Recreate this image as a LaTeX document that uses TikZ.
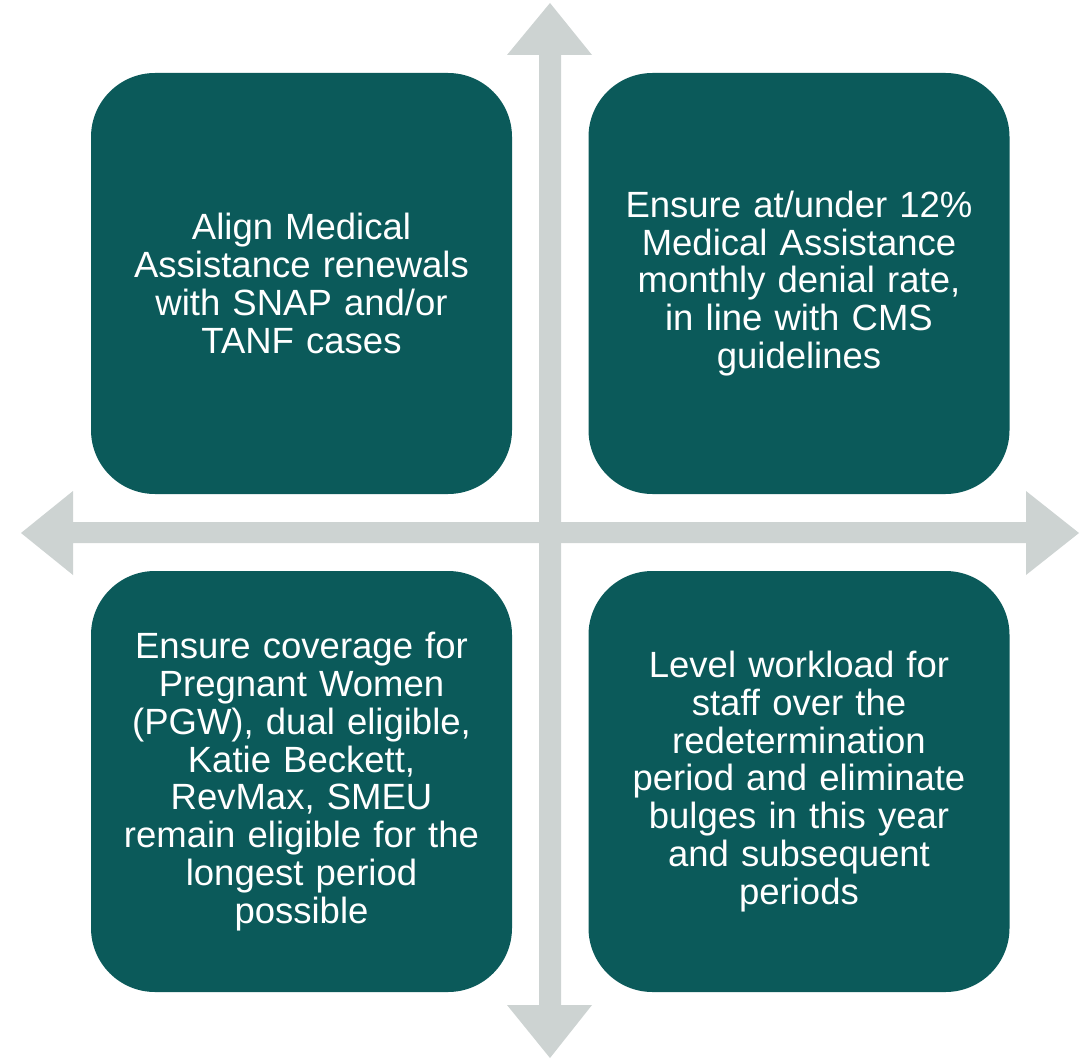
\documentclass[tikz,border=0pt]{standalone}
\usepackage{fontspec}
\setmainfont{Liberation Sans}
\definecolor{teal}{HTML}{0B5A5A}
\definecolor{arrowgray}{HTML}{CDD3D2}
\begin{document}
\begin{tikzpicture}[x=1pt,y=-1pt,
  quad/.style={fill=teal, draw=none, rounded corners=64pt, minimum width=421pt, minimum height=421pt, inner sep=0pt,
     text=white, align=center, text width=400pt, font=\fontsize{36.5}{37.8}\selectfont},
  arr/.style={fill=arrowgray, draw=none}]
\useasboundingbox (0,0) rectangle (1092,1059);
% arrows
\fill[arr] (539,55) -- (507,55) -- (550,3) -- (592,55) -- (561,55) -- (561,1005) -- (592,1005) -- (550,1058) -- (507,1005) -- (539,1005) -- cycle;
\fill[arr] (73,522) -- (73,491) -- (21,533) -- (73,575) -- (73,543) -- (1026,543) -- (1026,575) -- (1079,533) -- (1026,491) -- (1026,522) -- cycle;
% boxes
\node[quad] (tl) at (301.5,283.5) {Align Medical\\Assistance renewals\\with SNAP and/or\\TANF cases};
\node[quad] (tr) at (799,283.5) {Ensure at/under 12\%\\Medical Assistance\\monthly denial rate,\\in line with CMS\\guidelines};
\node[quad] (bl) at (301.5,781.5) {Ensure coverage for\\Pregnant Women\\(PGW), dual eligible,\\Katie Beckett,\\RevMax, SMEU\\remain eligible for the\\longest period\\possible};
\node[quad] (br) at (799,781.5) {Level workload for\\staff over the\\redetermination\\period and eliminate\\bulges in this year\\and subsequent\\periods};
\end{tikzpicture}
\end{document}
